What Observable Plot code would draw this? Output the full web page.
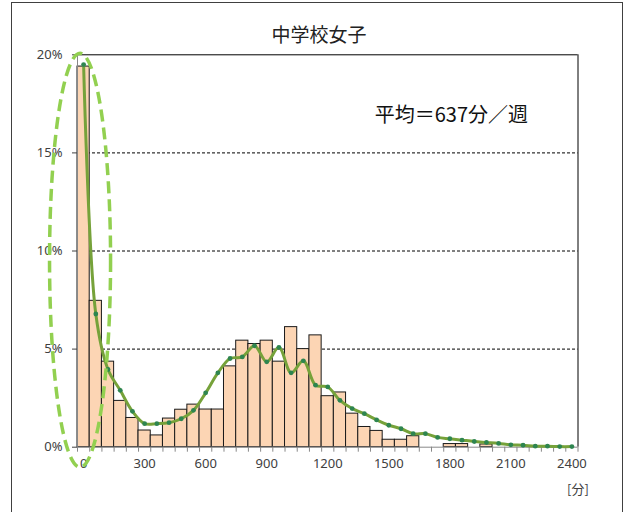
<!DOCTYPE html>
<html>
<head>
<meta charset="utf-8">
<script src="https://cdn.jsdelivr.net/npm/d3@7"></script>
<script src="https://cdn.jsdelivr.net/npm/@observablehq/plot@0.6"></script>
<style>
  html, body { margin: 0; padding: 0; background: #fff; }
  #wrap { position: relative; width: 627px; height: 512px; overflow: hidden; background: #fff; }
  #border { position: absolute; left: 11px; top: 2px; width: 612px; height: 600px; border: 1.5px solid #404040; box-sizing: border-box; }
  #title { position: absolute; left: 219px; width: 200px; top: 24px; text-align: center;
           font-family: "Noto Sans CJK JP", sans-serif; font-size: 19px; line-height: 1; color: #222; }
  #chart { position: absolute; left: 0; top: 0; }
</style>
</head>
<body>
<div id="wrap">
  <div id="border"></div>
  <div id="title"></div>
  <div id="chart"></div>
</div>
<script>
// ---- data ----
const titleText = "中学校女子";
const noteText = "平均＝637分／週";
const unitText = "[分]";

// bin centers (minutes per week), bins 60 minutes wide
const binCenters = [0, 60, 120, 180, 240, 300, 360, 420, 480, 540, 600, 660, 720, 780, 840, 900, 960, 1020, 1080, 1140,
  1200, 1260, 1320, 1380, 1440, 1500, 1560, 1620, 1680, 1740, 1800, 1860, 1920, 1980, 2040, 2100, 2160, 2220, 2280, 2340, 2400];
const binWidth = 60;

// histogram bar heights (%)
const barPct = [19.4, 7.46, 4.36, 2.36, 1.49, 0.85, 0.6, 1.46, 1.91, 2.17, 1.92, 1.92, 4.12, 5.43, 5.26, 5.43, 4.36, 6.12, 5.0, 5.7,
  2.6, 2.79, 1.71, 1.03, 0.83, 0.38, 0.38, 0.56, 0, 0, 0.16, 0.16, 0, 0.14, 0, 0, 0, 0, 0, 0, 0];

// smoothed line values (%)
const linePct = [19.5, 6.79, 3.96, 2.9, 1.83, 1.2, 1.2, 1.25, 1.45, 1.88, 2.77, 3.79, 4.52, 4.6, 5.17, 4.35, 5.09, 3.79, 4.4, 3.16,
  3.07, 2.39, 1.97, 1.71, 1.39, 1.12, 0.94, 0.69, 0.69, 0.5, 0.43, 0.36, 0.29, 0.24, 0.19, 0.12, 0.1, 0.05, 0.05, 0.03, 0.03];

const yTicks = [0, 0.05, 0.10, 0.15, 0.20];
const gridTicks = [0.05, 0.10, 0.15];
const xLabelTicks = [0, 300, 600, 900, 1200, 1500, 1800, 2100, 2400];

// highlight ellipse around the first bin (data units)
const ellipseCenter = { t: -15, p: 0.095 };
const ellipseRadius = { t: 150, p: 0.1055 };

// ---- build ----
const rows = binCenters.map((t, i) => ({ t, bar: barPct[i] / 100, line: linePct[i] / 100 }));
const binEdges = [binCenters[0] - binWidth / 2, ...binCenters.map(t => t + binWidth / 2)];
const xDomain = [binEdges[0], binEdges[binEdges.length - 1]];

document.getElementById("title").textContent = titleText;

const chart = Plot.plot({
  width: 627,
  height: 512,
  marginLeft: 77,
  marginRight: 49.5,
  marginTop: 54.3,
  marginBottom: 65.3,
  style: { fontFamily: "'Noto Sans', 'Noto Sans CJK JP', sans-serif", fontSize: "13px", color: "#404040", background: "transparent" },
  x: { type: "linear", domain: xDomain, label: null },
  y: { domain: [0, 0.2], label: null },
  marks: [
    Plot.ruleY(gridTicks, { stroke: "#000", strokeDasharray: "3,2", strokeWidth: 1 }),
    Plot.rectY(rows.filter(d => d.bar > 0), {
      x1: d => d.t - binWidth / 2, x2: d => d.t + binWidth / 2, y: "bar",
      fill: "#FCD5B4", stroke: "#1a1a1a", strokeWidth: 1, insetLeft: 0, insetRight: 0
    }),
    Plot.ruleY([0], { stroke: "#888" }),
    Plot.ruleX([xDomain[0]], { stroke: "#888" }),
    Plot.ruleY([0.2], { stroke: "#000" }),
    Plot.ruleX([xDomain[1]], { stroke: "#000" }),
    Plot.axisX({ ticks: binEdges, tickSize: 5, tickFormat: () => "", color: "#888", label: null }),
    Plot.axisX({ ticks: xLabelTicks, tickSize: 0, tickPadding: 12, tickFormat: d => String(d), color: "#404040", label: null }),
    Plot.axisY({ ticks: yTicks, tickSize: 5, tickPadding: 10, tickFormat: d => Math.round(d * 100) + "%", color: "#404040", label: null }),
    Plot.line(rows, { x: "t", y: "line", stroke: "#76A23A", strokeWidth: 3, curve: "catmull-rom" }),
    Plot.dot(rows, { x: "t", y: "line", r: 2.4, fill: "#2E8550", stroke: null }),
    Plot.text([noteText], { frameAnchor: "top-right", dx: -50, dy: 61, textAnchor: "end", lineAnchor: "middle",
      fontSize: 20, fill: "#111", fontFamily: "'Noto Sans CJK JP', sans-serif" }),
    Plot.text([unitText], { frameAnchor: "bottom-right", dx: 0, dy: 43, textAnchor: "middle", lineAnchor: "middle",
      fontSize: 13, fill: "#404040", fontFamily: "'Noto Sans CJK JP', sans-serif" })
  ]
});

document.getElementById("chart").appendChild(chart);

// dashed highlight ellipse, positioned through the chart's scales
const sx = chart.scale("x"), sy = chart.scale("y");
const fx = d3.scaleLinear(sx.domain, sx.range);
const fy = d3.scaleLinear(sy.domain, sy.range);
const svg = d3.select(chart.tagName.toLowerCase() === "svg" ? chart : chart.querySelector("svg"));
svg.append("ellipse")
  .attr("cx", fx(ellipseCenter.t))
  .attr("cy", fy(ellipseCenter.p))
  .attr("rx", Math.abs(fx(ellipseCenter.t + ellipseRadius.t) - fx(ellipseCenter.t)))
  .attr("ry", Math.abs(fy(ellipseCenter.p + ellipseRadius.p) - fy(ellipseCenter.p)))
  .attr("fill", "none")
  .attr("stroke", "#92D050")
  .attr("stroke-width", 3.5)
  .attr("stroke-dasharray", "12,6");
</script>
</body>
</html>
